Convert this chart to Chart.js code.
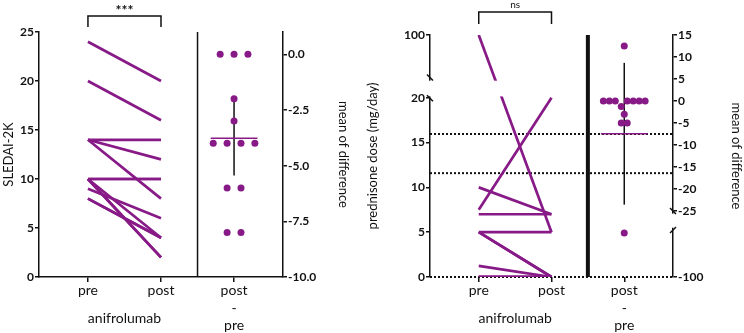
<!DOCTYPE html>
<html>
<head>
<meta charset="utf-8">
<script src="https://cdn.jsdelivr.net/npm/chart.js@4.4.0/dist/chart.umd.min.js"></script>
<style>
  html, body { margin: 0; padding: 0; background: #fff; }
  #wrap { position: relative; width: 744px; height: 333px; overflow: hidden; }
  #c1 { position: absolute; left: 0; top: 0; }
  #c2 { position: absolute; left: 360px; top: 0; }
</style>
</head>
<body>
<div id="wrap">
  <canvas id="c1" width="360" height="333"></canvas>
  <canvas id="c2" width="384" height="333"></canvas>
</div>
<script>
// ---- data ----
const groupLabels = ['pre', 'post', ['post', '-', 'pre']];

// SLEDAI-2K, one entry per patient
const sledaiPre  = [24, 20, 14, 14, 14, 10, 10, 10, 10, 10, 9, 8, 8];
const sledaiPost = [20, 16, 14, 12, 8, 10, 10, 4, 2, 2, 6, 4, 4];
const sledaiTicks = [0, 5, 10, 15, 20, 25];
const sledaiDiffTicks = [-10, -7.5, -5, -2.5, 0];

// prednisone dose (mg/day), one entry per patient
const predPre  = [100, 7.5, 10, 7, 5, 0, 1.25, 5, 5, 0, 0, 0, 0];
const predPost = [5, 20, 7, 7, 5, 0, 0, 0, 0, 0, 0, 0, 0];
const predTicks = [0, 5, 10, 15, 20, 100];
const predDiffTicks = [15, 10, 5, 0, -5, -10, -15, -20, -25, -100];
const predRefLines = [-7.5, -16.4];

const T_CRIT = 2.179; // t(0.975, df=12)

// ---- style ----
const PURPLE = '#871a87';
const INK = '#111';
const FONT = 'Lato, "Open Sans", sans-serif';
const X_MIN = -0.67, X_MAX = 2.67;
Chart.defaults.font.family = FONT;

// broken axes: values above 20 / below -25 are squeezed into a short segment
const same = v => v;
const predShow = v => v <= 20 ? v : 22 + (v - 20) / 16;
const predDiffShow = v => v >= -25 ? v : -40 + (v + 100) * 2;

function diffs(pre, post) { return post.map((v, i) => v - pre[i]); }
function mean(a) { return a.reduce((s, v) => s + v, 0) / a.length; }
function ci95(a) {
    const m = mean(a);
    const sd = Math.sqrt(a.reduce((s, v) => s + (v - m) ** 2, 0) / (a.length - 1));
    const h = T_CRIT * sd / Math.sqrt(a.length);
    return [m - h, m + h];
}

// simple beeswarm: values close together share a row and are spread sideways
function swarm(values, tol, step) {
    const groups = [];
    values.forEach((v, i) => {
        let g = groups.find(g => Math.abs(g.v - v) <= tol);
        if (!g) { g = { v: v, idx: [] }; groups.push(g); }
        g.idx.push(i);
    });
    const offs = [];
    groups.forEach(g => g.idx.forEach((i, k) => { offs[i] = (k - (g.idx.length - 1) / 2) * step; }));
    return offs;
}

function buildDatasets(pre, post, show, diffShow, tol, step, refLines) {
    const ds = [];
    pre.forEach((v, i) => ds.push({
        data: [{ x: 0, y: show(v) }, { x: 1, y: show(post[i]) }],
        yAxisID: 'y', showLine: true, borderColor: PURPLE, borderWidth: 2.7,
        pointRadius: 0, order: 3
    }));
    (refLines || []).forEach(r => ds.push({
        data: [{ x: X_MIN, y: r }, { x: X_MAX, y: r }],
        yAxisID: 'y2', showLine: true, borderColor: INK, borderWidth: 2,
        borderDash: [2, 2], pointRadius: 0, order: 4
    }));
    const d = diffs(pre, post);
    const offs = swarm(d, tol, step);
    const m = mean(d);
    const ci = ci95(d);
    ds.push({
        data: d.map((v, i) => ({ x: 2 + offs[i], y: diffShow(v) })),
        yAxisID: 'y2', pointRadius: 3.5, backgroundColor: PURPLE, borderWidth: 0, order: 0
    });
    ds.push({
        data: [{ x: 2, y: ci[0] }, { x: 2, y: ci[1] }],
        yAxisID: 'y2', showLine: true, borderColor: INK, borderWidth: 1.5, pointRadius: 0, order: 2
    });
    ds.push({
        data: [{ x: 2 - 0.32, y: m }, { x: 2 + 0.32, y: m }],
        yAxisID: 'y2', showLine: true, borderColor: PURPLE, borderWidth: 1.5, pointRadius: 0, order: 1
    });
    return ds;
}

function xAxis(dotted) {
    return {
        type: 'linear', min: X_MIN, max: X_MAX,
        afterBuildTicks: s => { s.ticks = [0, 1, 2].map(v => ({ value: v })); },
        afterFit: s => { s.height = 56; },
        ticks: {
            callback: (v, i) => groupLabels[i], color: INK, padding: 0,
            font: { size: 14, lineHeight: 1.25 }, maxRotation: 0, autoSkip: false
        },
        grid: { drawOnChartArea: false, tickLength: 5, tickColor: INK, lineWidth: 1.5 },
        // the dotted baseline of the prednisone panel is drawn by the decor plugin
        border: { display: !dotted, color: INK, width: 1.5 }
    };
}

function yAxis(pos, min, max, raw, show, fmt, title, width, titlePad) {
    return {
        type: 'linear', position: pos, min: min, max: max,
        afterBuildTicks: s => { s.ticks = raw.map(v => ({ value: show(v) })); },
        afterFit: s => { s.width = width; },
        ticks: {
            callback: (v, i) => fmt(raw[i]), color: INK, padding: 1,
            font: { size: 12, weight: 'bold' }, autoSkip: false
        },
        grid: { drawOnChartArea: false, tickLength: 4, tickColor: INK, lineWidth: 1.5 },
        border: { color: INK, width: 1.5 },
        title: { display: true, text: title, color: INK, font: { size: 13 }, padding: { top: titlePad, bottom: 0 } }
    };
}

const decor = {
    id: 'decor',
    beforeDatasetsDraw(chart, args, o) {
        const { ctx, chartArea: a, scales: { x } } = chart;
        const px = x.getPixelForValue(1.5);
        ctx.save();
        ctx.strokeStyle = INK;
        ctx.lineWidth = o.dividerWidth;
        ctx.beginPath();
        ctx.moveTo(px, a.top);
        ctx.lineTo(px, a.bottom);
        ctx.stroke();
        if (o.dottedBase) {
            ctx.lineWidth = 2;
            ctx.setLineDash([2, 2]);
            ctx.beginPath();
            ctx.moveTo(a.left, a.bottom);
            ctx.lineTo(a.right, a.bottom);
            ctx.stroke();
        }
        ctx.restore();
    },
    afterDatasetsDraw(chart, args, o) {
        const { ctx, chartArea: a, scales } = chart;
        const x = scales.x;
        ctx.save();
        // cut the broken axes
        ctx.fillStyle = '#fff';
        (o.gaps || []).forEach(g => {
            const s = scales[g.axis];
            const y0 = s.getPixelForValue(g.from), y1 = s.getPixelForValue(g.to);
            const x0 = x.getPixelForValue(g.x0), x1 = x.getPixelForValue(g.x1);
            ctx.fillRect(x0, Math.min(y0, y1), x1 - x0, Math.abs(y1 - y0));
        });
        ctx.strokeStyle = INK;
        ctx.lineWidth = 1.5;
        (o.breaks || []).forEach(b => {
            const s = scales[b.axis];
            const cx = s.position === 'left' ? a.left : a.right;
            const cy = s.getPixelForValue(b.value);
            ctx.beginPath();
            ctx.moveTo(cx - 3, cy - 3 * b.dir);
            ctx.lineTo(cx + 3, cy + 3 * b.dir);
            ctx.stroke();
        });
        // significance bracket
        const br = o.bracket;
        const bx0 = x.getPixelForValue(0), bx1 = x.getPixelForValue(1);
        ctx.beginPath();
        ctx.moveTo(bx0, br.yEnd);
        ctx.lineTo(bx0, br.yTop);
        ctx.lineTo(bx1, br.yTop);
        ctx.lineTo(bx1, br.yEnd);
        ctx.stroke();
        ctx.fillStyle = INK;
        ctx.textAlign = 'center';
        ctx.textBaseline = 'alphabetic';
        ctx.font = br.font;
        ctx.fillText(br.text, (bx0 + bx1) / 2, br.textY);
        // group name under pre / post
        ctx.font = '14px ' + FONT;
        ctx.textBaseline = 'middle';
        ctx.fillText(o.groupTitle, x.getPixelForValue(0.5), a.bottom + 41);
        ctx.restore();
    }
};

function baseOptions(top, scales, decorOpts) {
    return {
        responsive: false,
        animation: false,
        events: [],
        layout: { padding: { top: top, left: 0, right: 0, bottom: 0 } },
        scales: scales,
        plugins: { legend: { display: false }, tooltip: { enabled: false }, decor: decorOpts }
    };
}

// SLEDAI-2K panel
new Chart(document.getElementById('c1'), {
    type: 'scatter',
    data: { datasets: buildDatasets(sledaiPre, sledaiPost, same, same, 0.5, 0.19, null) },
    options: baseOptions(32, {
        x: xAxis(false),
        y: yAxis('left', 0, 25, sledaiTicks, same, v => String(v), 'SLEDAI-2K', 39, 1),
        y2: yAxis('right', -10, 1, sledaiDiffTicks, same, v => v.toFixed(1), 'mean of difference', 77, 9)
    }, {
        dividerWidth: 1.5,
        bracket: { yTop: 16, yEnd: 27, text: '***', textY: 15, font: 'bold 14px ' + FONT },
        groupTitle: 'anifrolumab'
    }),
    plugins: [decor]
});

// prednisone panel
new Chart(document.getElementById('c2'), {
    type: 'scatter',
    data: { datasets: buildDatasets(predPre, predPost, predShow, predDiffShow, 1.5, 0.082, predRefLines) },
    options: baseOptions(35, {
        x: xAxis(true),
        y: yAxis('left', 0, 27, predTicks, predShow, v => String(v), 'prednisone dose (mg/day)', 70, 5),
        y2: yAxis('right', -40, 15, predDiffTicks, predDiffShow, v => String(v), 'mean of difference', 71, 0)
    }, {
        dividerWidth: 4,
        dottedBase: true,
        gaps: [
            { axis: 'y', from: 20.15, to: 21.9, x0: -0.71, x1: 1.45 },
            { axis: 'y2', from: -25.6, to: -28.8, x0: 2.62, x1: 2.72 }
        ],
        breaks: [
            { axis: 'y', value: 22.25, dir: 1 },
            { axis: 'y', value: 19.95, dir: 1 },
            { axis: 'y2', value: -25, dir: 1 },
            { axis: 'y2', value: -29.3, dir: -1 }
        ],
        bracket: { yTop: 12, yEnd: 24, text: 'ns', textY: 8, font: '10px ' + FONT },
        groupTitle: 'anifrolumab'
    }),
    plugins: [decor]
});
</script>
</body>
</html>
